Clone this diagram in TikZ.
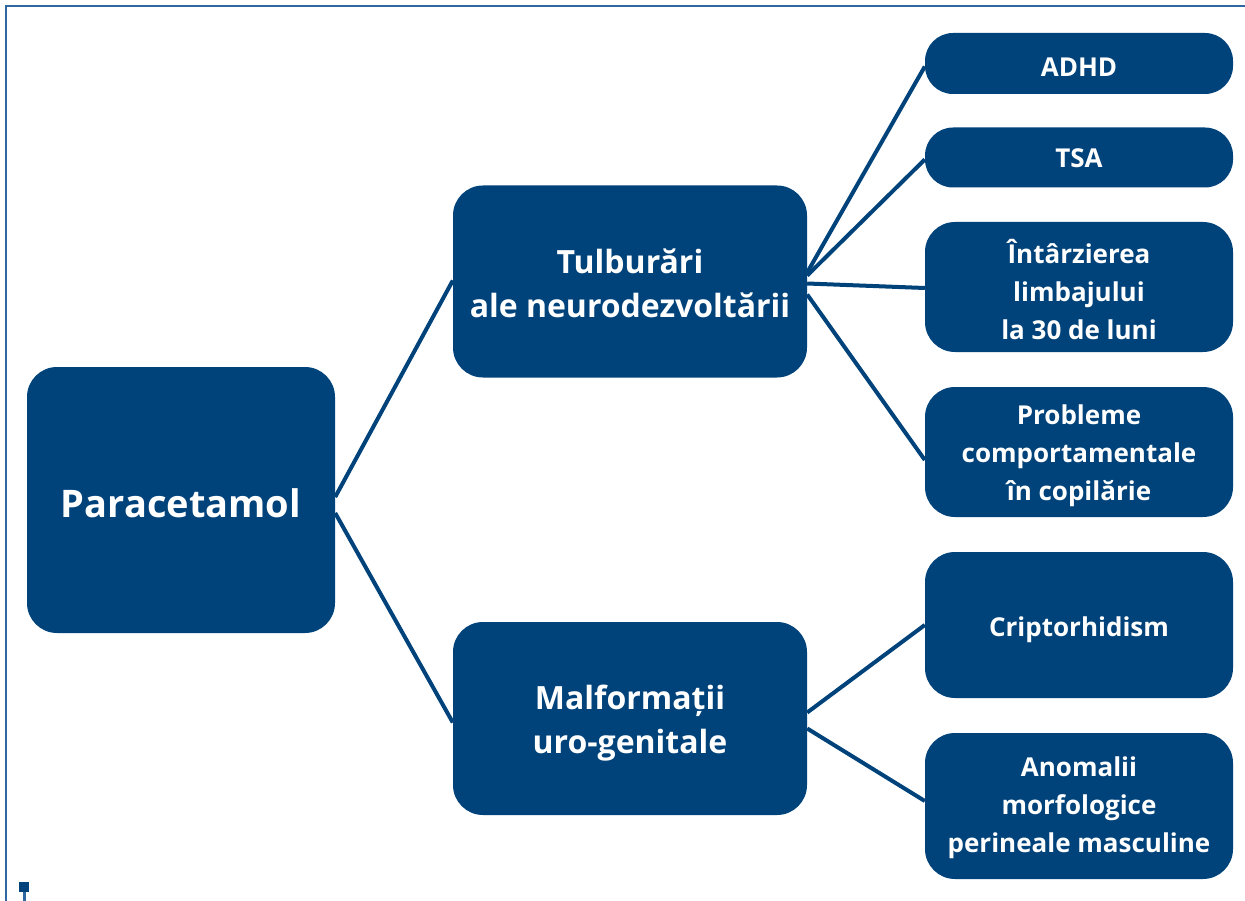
\documentclass[tikz,border=0pt]{standalone}
\usepackage{fontspec}
\setmainfont{Open Sans}
\definecolor{dblue}{HTML}{00427A}
\definecolor{fblue}{HTML}{2F67A0}
\begin{document}
\begin{tikzpicture}[x=1pt,y=-1pt,
  box/.style={fill=dblue,rounded corners=30pt,inner sep=0pt},
  txt/.style={text=white,inner sep=0pt,align=center,font=\bfseries\fontsize{26}{38}\selectfont},
  bigtxt/.style={txt,font=\bfseries\fontsize{32}{44}\selectfont},
  link/.style={draw=dblue,line width=4pt}]
\useasboundingbox (0,0) rectangle (1245,901);
\draw[fblue,line width=2pt] (1245,6) -- (6,6) -- (6,901);
\fill[dblue] (19,882) rectangle (29,892);
\draw[fblue,line width=3pt] (24,892) -- (24,901);

\node[box,minimum width=308pt,minimum height=266pt] (par) at (181,500) {};
\node[txt,font=\bfseries\fontsize{38}{44}\selectfont] (part) at (181,503) {Paracetamol};
\node[box,minimum width=354pt,minimum height=192pt] (tul) at (630,281.5) {};
\node[bigtxt] (tult) at (630,283) {Tulburări\\ale neurodezvoltării};
\node[box,minimum width=354pt,minimum height=193pt] (mal) at (630,718.5) {};
\node[bigtxt] (malt) at (630,723) {Malformații\\uro-genitale};

\node[box,minimum width=308pt,minimum height=61pt,rounded corners=28pt] (adhd) at (1079,63.5) {};
\node[txt] (adhdt) at (1079,67) {ADHD};
\node[box,minimum width=308pt,minimum height=60pt,rounded corners=28pt] (tsa) at (1079,157.5) {};
\node[txt] (tsat) at (1079,158) {TSA};
\node[box,minimum width=308pt,minimum height=130pt] (int) at (1079,287) {};
\node[txt] (intt) at (1079,290) {Întârzierea\\limbajului\\la 30 de luni};
\node[box,minimum width=308pt,minimum height=130pt] (prob) at (1079,452) {};
\node[txt] (probt) at (1079,456) {Probleme\\comportamentale\\în copilărie};
\node[box,minimum width=308pt,minimum height=146pt] (crip) at (1079,625) {};
\node[txt] (cript) at (1079,630) {Criptorhidism};
\node[box,minimum width=308pt,minimum height=146pt] (anom) at (1079,806) {};
\node[txt] (anomt) at (1079,808) {Anomalii\\morfologice\\perineale masculine};

\draw[link] ([yshift=3pt]par.east) -- ([yshift=1pt]tul.west);
\draw[link] ([yshift=-13pt]par.east) -- ([yshift=-4pt]mal.west);

\draw[link] ([yshift=9pt]tul.east) -- ([yshift=-3pt]adhd.west);
\draw[link] ([yshift=6pt]tul.east) -- ([yshift=-2pt]tsa.west);
\draw[link] ([yshift=-2pt]tul.east) -- ([yshift=-1pt]int.west);
\draw[link] ([yshift=-13pt]tul.east) -- ([yshift=-8pt]prob.west);

\draw[link] ([yshift=6pt]mal.east) -- ([yshift=0pt]crip.west);
\draw[link] ([yshift=-10pt]mal.east) -- ([yshift=5pt]anom.west);
\end{tikzpicture}
\end{document}
